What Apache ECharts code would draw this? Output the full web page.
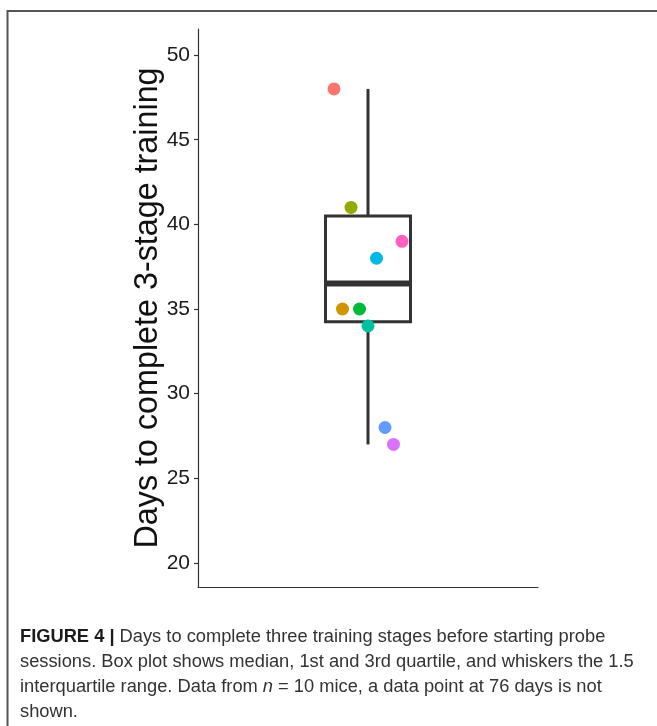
<!DOCTYPE html>
<html>
<head>
<meta charset="utf-8">
<script src="https://cdn.jsdelivr.net/npm/echarts@6/dist/echarts.min.js"></script>
<style>
  html, body { margin: 0; padding: 0; background: #fff; }
  #chart { width: 657px; height: 726px; }
</style>
</head>
<body>
<div id="chart"></div>
<script>
// days per mouse (the 76-day mouse is not shown)
const days = [48, 41, 39, 38, 35, 35, 34, 28, 27]
// jittered horizontal positions around the single group at x = 1
const jitterX = [0.88, 0.94, 1.12, 1.03, 0.91, 0.97, 1.0, 1.06, 1.09]
const pointColors = ['#F8766D', '#93AA00', '#FF61C3', '#00B9E3', '#D39200', '#00BA38', '#00C19F', '#619CFF', '#DB72FB']
// lower whisker, Q1, median, Q3, upper whisker
const boxStats = [27, 34.25, 36.5, 40.5, 48]
const yTicks = [20, 25, 30, 35, 40, 45, 50]

const captionLines = [
  '{b|FIGURE 4 |} Days to complete three training stages before starting probe',
  'sessions. Box plot shows median, 1st and 3rd quartile, and whiskers the 1.5',
  'interquartile range. Data from {i|n} = 10 mice, a data point at 76 days is not',
  'shown.'
]

const boxWidth = 0.3
const ink = '#333333'
const font = '"Liberation Sans", Arial, sans-serif'
const captionSize = 18.3

const chart = echarts.init(document.getElementById('chart'))

function renderBox(params, api) {
  const x = api.value(0)
  const lo = api.coord([x, api.value(1)])
  const q1L = api.coord([x - boxWidth / 2, api.value(2)])
  const q1R = api.coord([x + boxWidth / 2, api.value(2)])
  const medL = api.coord([x - boxWidth / 2, api.value(3)])
  const medR = api.coord([x + boxWidth / 2, api.value(3)])
  const q3L = api.coord([x - boxWidth / 2, api.value(4)])
  const hi = api.coord([x, api.value(5)])
  const lineStyle = { stroke: ink, lineWidth: 3, fill: null }
  return {
    type: 'group',
    children: [
      { type: 'line', shape: { x1: hi[0], y1: hi[1], x2: hi[0], y2: q3L[1] }, style: lineStyle },
      { type: 'line', shape: { x1: lo[0], y1: lo[1], x2: lo[0], y2: q1L[1] }, style: lineStyle },
      {
        type: 'rect',
        shape: { x: q3L[0], y: q3L[1], width: q1R[0] - q1L[0], height: q1L[1] - q3L[1] },
        style: { stroke: ink, lineWidth: 3, fill: '#fff' }
      },
      { type: 'line', shape: { x1: medL[0], y1: medL[1], x2: medR[0], y2: medR[1] }, style: { stroke: ink, lineWidth: 6 } }
    ]
  }
}

chart.setOption({
  animation: false,
  grid: { left: 198, right: 119, top: 29, bottom: 139 },
  xAxis: {
    type: 'value',
    min: 0.4,
    max: 1.6,
    axisLine: { show: true, lineStyle: { color: ink, width: 1.2 } },
    axisTick: { show: false },
    axisLabel: { show: false },
    splitLine: { show: false }
  },
  yAxis: {
    type: 'value',
    min: 18.58,
    max: 51.54,
    name: 'Days to complete 3-stage training',
    nameLocation: 'middle',
    nameRotate: 90,
    nameGap: 34,
    nameMoveOverlap: false,
    nameTextStyle: { fontFamily: font, fontSize: 32.3, color: '#111' },
    axisLine: { show: true, lineStyle: { color: ink, width: 1.2 } },
    axisTick: { show: true, length: 4, customValues: yTicks, lineStyle: { color: ink, width: 1.2 } },
    axisLabel: { customValues: yTicks, margin: 8, fontFamily: font, fontSize: 21, color: '#1a1a1a' },
    splitLine: { show: false }
  },
  series: [
    {
      type: 'custom',
      renderItem: renderBox,
      data: [[1].concat(boxStats)],
      z: 2
    },
    {
      type: 'scatter',
      symbolSize: 13,
      z: 3,
      data: days.map((d, i) => ({
        value: [jitterX[i], d],
        itemStyle: { color: pointColors[i], opacity: 1 }
      }))
    }
  ],
  graphic: [
    {
      type: 'polyline',
      shape: { points: [[7.5, 726], [7.5, 11], [657, 11]] },
      style: { stroke: '#555', lineWidth: 2, fill: null }
    }
  ].concat(captionLines.map((line, i) => ({
    type: 'text',
    left: 20,
    top: 628 + i * 25,
    style: {
      text: line,
      fontFamily: font,
      fontSize: captionSize,
      fill: '#333',
      rich: {
        b: { fontFamily: font, fontSize: captionSize, fontWeight: 'bold', fill: '#1a1a1a' },
        i: { fontFamily: font, fontSize: captionSize, fontStyle: 'italic', fill: '#333' }
      }
    }
  })))
})
</script>
</body>
</html>
